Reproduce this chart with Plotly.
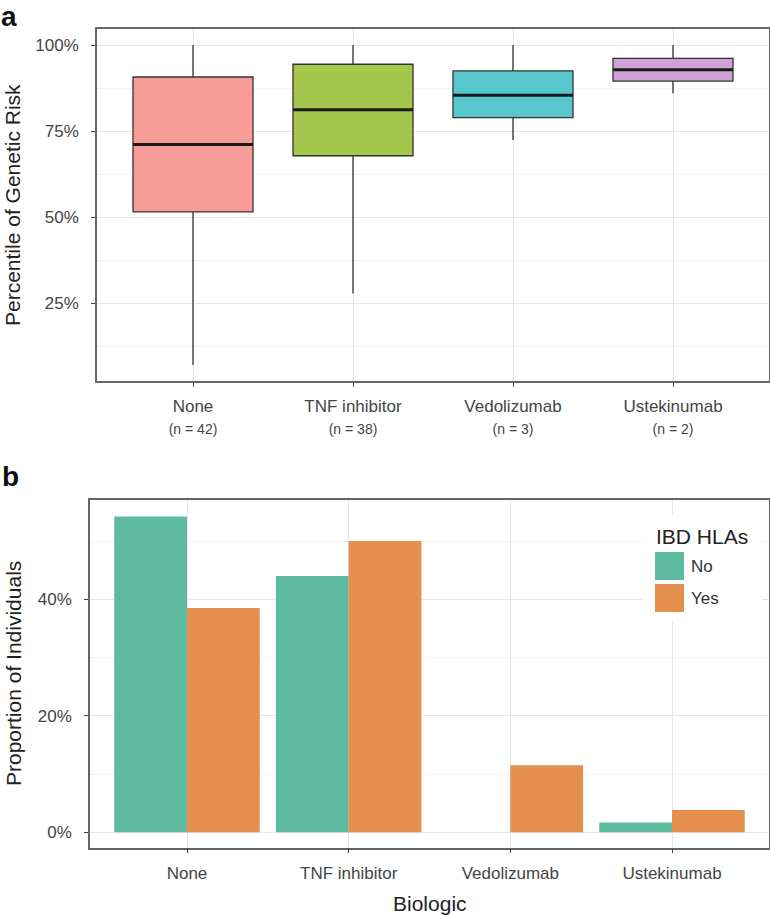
import plotly.graph_objects as go

W, H = 770, 916
FONT = "Liberation Sans, Arial, Helvetica, sans-serif"

# ── data ──────────────────────────────────────────────────────────────────────
biologics = ["None", "TNF inhibitor", "Vedolizumab", "Ustekinumab"]
n_counts = [42, 38, 3, 2]

# panel a: percentile of genetic risk (box summaries, %)
risk_upper = [100.0, 100.0, 100.0, 100.0]
risk_q3 = [90.7, 94.4, 92.5, 96.1]
risk_median = [71.1, 81.2, 85.4, 92.8]
risk_q1 = [51.5, 67.8, 78.9, 89.5]
risk_lower = [7.0, 27.8, 72.4, 86.0]
risk_ticks = [25, 50, 75, 100]
risk_ticktext = ["25%", "50%", "75%", "100%"]

# panel b: proportion of individuals by IBD HLA status (%)
hla_groups = ["No", "Yes"]
prop_no = [54.2, 44.0, 0.0, 1.7]
prop_yes = [38.5, 50.0, 11.5, 3.85]
prop_ticks = [0, 20, 40]
prop_ticktext = ["0%", "20%", "40%"]

box_fill = ["#F69D98", "#A4C64A", "#57C7CD", "#CFA1D7"]
hla_colors = {"No": "#5FBBA0", "Yes": "#E48F4E"}


def px_x(x):
    return x / W


def px_y(y):
    return 1 - y / H


xpos = list(range(len(biologics)))
fig = go.Figure()

# ── panel a: boxes ────────────────────────────────────────────────────────────
for i, name in enumerate(biologics):
    fig.add_trace(go.Box(
        x=[i], q1=[risk_q1[i]], median=[risk_median[i]], q3=[risk_q3[i]],
        lowerfence=[risk_lower[i]], upperfence=[risk_upper[i]],
        width=0.75, whiskerwidth=0, fillcolor=box_fill[i],
        line=dict(color="#333333", width=1.3),
        name=name, showlegend=False, xaxis="x", yaxis="y",
    ))

# thicker median bars, like ggplot's fatten
mx, my = [], []
for i, m in zip(xpos, risk_median):
    mx += [i - 0.375, i + 0.375, None]
    my += [m, m, None]
fig.add_trace(go.Scatter(
    x=mx, y=my, mode="lines", line=dict(color="#1a1a1a", width=3),
    showlegend=False, hoverinfo="skip", xaxis="x", yaxis="y",
))

# ── panel b: grouped bars ─────────────────────────────────────────────────────
for grp, vals in zip(hla_groups, [prop_no, prop_yes]):
    fig.add_trace(go.Bar(
        x=xpos, y=vals, name=grp, marker=dict(color=hla_colors[grp], line=dict(width=0)),
        showlegend=False, xaxis="x2", yaxis="y2",
    ))

axis_common = dict(
    showline=True, mirror=True, linecolor="#666666", linewidth=1.5,
    ticks="outside", ticklen=4, tickcolor="#444444", tickwidth=1,
    showgrid=True, gridcolor="#E6E6E6", gridwidth=1.2, zeroline=False,
    tickfont=dict(family=FONT, size=17, color="#444444"),
    automargin=False,
)

top_ticktext = [
    f"{b}<br><span style='font-size:14px'>(n = {n})</span>"
    for b, n in zip(biologics, n_counts)
]

fig.update_layout(
    width=W, height=H,
    margin=dict(l=0, r=0, t=0, b=0),
    paper_bgcolor="white", plot_bgcolor="white",
    font=dict(family=FONT, color="#222222"),
    barmode="group", bargap=0.1, bargroupgap=0,
    showlegend=False,
    xaxis=dict(
        axis_common, domain=[px_x(97), px_x(769)], anchor="y",
        range=[-0.6, 3.6], tickmode="array", tickvals=xpos, ticktext=top_ticktext,
        ticklabelstandoff=5,
    ),
    yaxis=dict(
        axis_common, domain=[px_y(381), px_y(29)], anchor="x",
        range=[2.33, 104.65], tickmode="array", tickvals=risk_ticks,
        ticktext=risk_ticktext, ticklabelstandoff=9,
        minor=dict(tickmode="array", tickvals=[12.5, 37.5, 62.5, 87.5],
                   showgrid=True, gridcolor="#F3F3F3", gridwidth=1, ticks=""),
    ),
    xaxis2=dict(
        axis_common, domain=[px_x(90), px_x(769)], anchor="y2",
        range=[-0.6, 3.6], tickmode="array", tickvals=xpos, ticktext=biologics,
        ticklabelstandoff=5,
    ),
    yaxis2=dict(
        axis_common, domain=[px_y(847.7), px_y(500)], anchor="x2",
        range=[-2.64, 57.05], tickmode="array", tickvals=prop_ticks,
        ticktext=prop_ticktext, ticklabelstandoff=9,
        minor=dict(tickmode="array", tickvals=[10, 30, 50],
                   showgrid=True, gridcolor="#F3F3F3", gridwidth=1, ticks=""),
    ),
)

# axis titles and panel letters
title_font = dict(family=FONT, size=21, color="#222222")
fig.add_annotation(text="Percentile of Genetic Risk", textangle=-90,
                   x=px_x(13), y=px_y(205), xref="paper", yref="paper",
                   xanchor="center", yanchor="middle", showarrow=False, font=title_font)
fig.add_annotation(text="Proportion of Individuals", textangle=-90,
                   x=px_x(13), y=px_y(674), xref="paper", yref="paper",
                   xanchor="center", yanchor="middle", showarrow=False, font=title_font)
fig.add_annotation(text="Biologic", x=px_x(429.5), y=px_y(903),
                   xref="paper", yref="paper", xanchor="center", yanchor="middle",
                   showarrow=False, font=title_font)
fig.add_annotation(text="<b>a</b>", x=0, y=1, xref="paper", yref="paper",
                   xanchor="left", yanchor="top", showarrow=False, borderpad=0,
                   font=dict(family=FONT, size=28, color="#111111"))
fig.add_annotation(text="<b>b</b>", x=0, y=px_y(494), xref="paper", yref="paper",
                   xanchor="left", yanchor="bottom", showarrow=False,
                   font=dict(family=FONT, size=28, color="#111111"))

# legend box drawn inside panel b (ggplot-sized keys)
fig.add_shape(type="rect", xref="paper", yref="paper",
              x0=px_x(642), x1=px_x(762), y0=px_y(622), y1=px_y(514),
              fillcolor="white", line=dict(width=0), layer="above")
fig.add_annotation(text="IBD HLAs", x=px_x(654), y=px_y(536), xref="paper", yref="paper",
                   xanchor="left", yanchor="middle", showarrow=False, font=title_font)
for k, grp in enumerate(hla_groups):
    top = 552 + k * 32
    fig.add_shape(type="rect", xref="paper", yref="paper",
                  x0=px_x(655), x1=px_x(684), y0=px_y(top + 28), y1=px_y(top),
                  fillcolor=hla_colors[grp], line=dict(width=0), layer="above")
    fig.add_annotation(text=grp, x=px_x(689), y=px_y(top + 14), xref="paper", yref="paper",
                       xanchor="left", yanchor="middle", showarrow=False,
                       font=dict(family=FONT, size=17, color="#333333"))

# page body has an 8px default margin; drop it so the figure fills the window
fig.write_html("out.html", config={"displayModeBar": False},
               post_script="document.body.style.margin='0';")
